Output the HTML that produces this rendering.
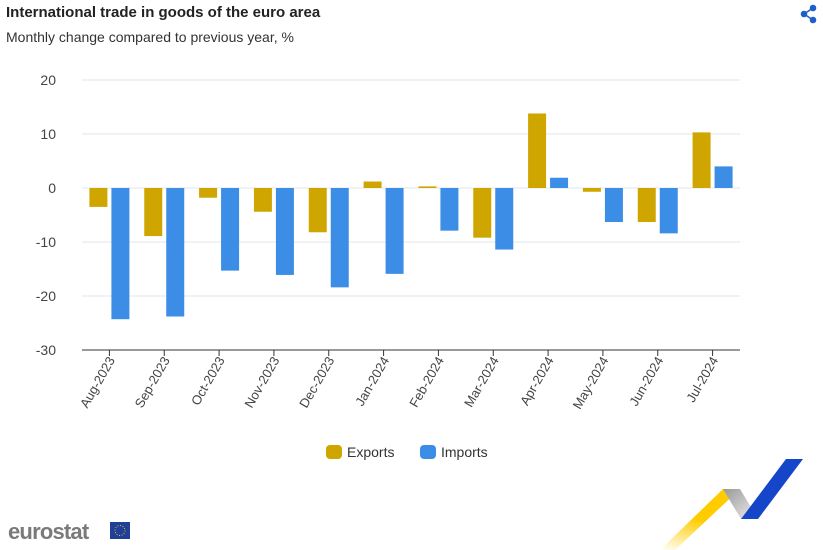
<!DOCTYPE html>
<html><head><meta charset="utf-8"><style>
body{margin:0;width:823px;height:550px;background:#fff;font-family:"Liberation Sans",sans-serif;overflow:hidden;position:relative}
.title{position:absolute;left:6px;top:4px;font-size:15px;font-weight:bold;color:#222}
.sub{position:absolute;left:6px;top:29px;font-size:14px;color:#333}
</style></head><body>
<div class="title">International trade in goods of the euro area</div>
<div class="sub">Monthly change compared to previous year, %</div>
<svg width="823" height="550" style="position:absolute;left:0;top:0" id="chart">
<g fill="#1f5fc9" stroke="#1f5fc9" stroke-width="1.6">
<circle cx="813" cy="8" r="2.5"/><circle cx="804" cy="14" r="2.5"/><circle cx="813" cy="20" r="2.5"/>
<line x1="813" y1="8" x2="804" y2="14"/><line x1="804" y1="14" x2="813" y2="20"/></g>
<g id="grid"></g><g id="bars"></g><g id="xlab"></g>
<g>
<rect x="326" y="445" width="16" height="14" rx="4" fill="#cfa600"/>
<text x="347" y="457" font-size="14" fill="#333">Exports</text>
<rect x="420" y="445" width="16" height="14" rx="4" fill="#3c8de6"/>
<text x="441" y="457" font-size="14" fill="#333">Imports</text>
</g>
<g>
<text x="8" y="539" font-size="22" font-weight="bold" fill="#7a7a7a" letter-spacing="-0.8">eurostat</text>
<rect x="110" y="522" width="20" height="17" fill="#1f3f9a"/>
<circle cx="120" cy="530.5" r="5" fill="none" stroke="#e6c700" stroke-width="1" stroke-dasharray="1 1.6"/>
</g>
<defs><linearGradient id="yg" x1="0" y1="1" x2="0.4" y2="0"><stop offset="0" stop-color="#fff"/><stop offset="0.6" stop-color="#ffcc00"/></linearGradient>
<linearGradient id="gg" x1="0" y1="0" x2="1" y2="1"><stop offset="0" stop-color="#999"/><stop offset="1" stop-color="#eee"/></linearGradient></defs>
<g>
<polygon points="660,550 675,550 740,489 723,489" fill="url(#yg)"/>
<polygon points="723,489 740,489 758,519 741,519" fill="url(#gg)"/>
<polygon points="741,519 758,519 803,459 786,459" fill="#1545c8"/>
</g>
</svg>
<script>
const categories=["Aug-2023","Sep-2023","Oct-2023","Nov-2023","Dec-2023","Jan-2024","Feb-2024","Mar-2024","Apr-2024","May-2024","Jun-2024","Jul-2024"];
const exportsVals=[-3.5,-8.9,-1.8,-4.4,-8.2,1.2,0.3,-9.2,13.8,-0.7,-6.3,10.3];
const importsVals=[-24.3,-23.8,-15.3,-16.1,-18.4,-15.9,-7.9,-11.4,1.9,-6.3,-8.4,4.0];
const ticks=[20,10,0,-10,-20,-30];
const NS="http://www.w3.org/2000/svg";
const L=82,R=740,T=80,B=350,ymax=20,ymin=-30;
const y=v=>T+(ymax-v)/(ymax-ymin)*(B-T);
const bw=(R-L)/categories.length;
const xc=i=>L+bw*(i+0.5);
function mk(t,a,p){const e=document.createElementNS(NS,t);for(const k in a)e.setAttribute(k,a[k]);p.appendChild(e);return e;}
const grid=document.getElementById('grid'),bars=document.getElementById('bars'),xl=document.getElementById('xlab');
ticks.forEach(t=>{
 const ln=mk('line',{x1:L,x2:R,y1:y(t),y2:y(t),stroke:t===ymin?'#333':'#e3e6ec','stroke-width':1},grid);
 
 
 const tx=mk('text',{x:56,y:y(t)+5,'font-size':14,fill:'#444','text-anchor':'end'},grid);
 tx.textContent=t;
 
 
});
function bar(v,x,c,n){const y0=y(0),yv=y(v);const r=mk('rect',{x:x,y:Math.min(y0,yv),width:18,height:Math.abs(yv-y0),fill:c},bars);
 
 }
categories.forEach((c,i)=>{
 bar(exportsVals[i],xc(i)-20,'#cfa600','bar-exports');
 bar(importsVals[i],xc(i)+2,'#3c8de6','bar-imports');
 const tk=mk('line',{x1:xc(i),x2:xc(i),y1:B,y2:B+6,stroke:'#333'},xl);
 
 
 const tx=mk('text',{x:xc(i)+6,y:B+10,'font-size':13,fill:'#444','text-anchor':'end',transform:`rotate(-60 ${xc(i)+6} ${B+10})`},xl);
 tx.textContent=c;
 
 
});
</script>
</body></html>
